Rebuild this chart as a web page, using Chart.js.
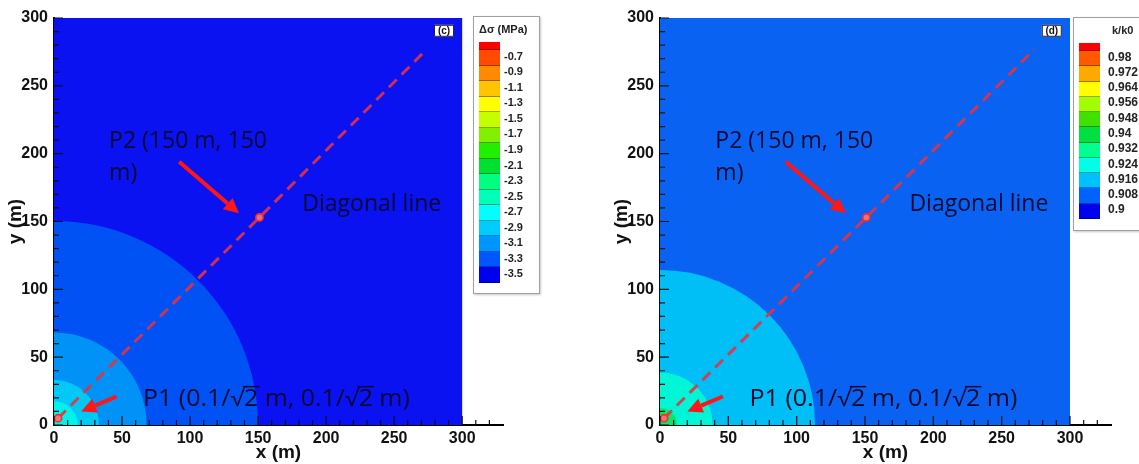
<!DOCTYPE html>
<html>
<head>
<meta charset="utf-8">
<script src="https://cdn.jsdelivr.net/npm/chart.js@4.4.1/dist/chart.umd.min.js"></script>
<style>
  body { margin: 0; background: #fff; width: 1139px; height: 464px; overflow: hidden; position: relative; font-family: "Liberation Sans", Arial, sans-serif; }
  .panel { position: absolute; top: 0; }
  .legend { position: absolute; background: #fff; border: 1px solid #a0a0a0; box-shadow: 1px 1px 2px #c8c8c8; overflow: hidden; }
  .legend .ttl { position: absolute; font-weight: bold; font-size: 11px; color: #222; white-space: nowrap; }
  .legend .bar { position: absolute; }
  .legend .sw { border-bottom: 1px solid rgba(0,0,0,0.35); box-sizing: border-box; }
  .legend .lbl { position: absolute; font-weight: bold; font-size: 11px; color: #222; line-height: 12px; white-space: nowrap; }
</style>
</head>
<body>
<canvas id="chartC" class="panel" width="570" height="464" style="left:0px"></canvas>
<canvas id="chartD" class="panel" width="533" height="464" style="left:606px"></canvas>
<div id="legendC" class="legend" style="left:473px; top:16px; width:65px; height:276px;"></div>
<div id="legendD" class="legend" style="left:1073px; top:17px; width:80px; height:212px;"></div>
<script>
// axis ticks
const xTicks = [0, 50, 100, 150, 200, 250, 300];
const yTicks = [0, 50, 100, 150, 200, 250, 300];

// panel (c): stress change contours (radius in m from origin)
const stressRadii = [150, 68, 33, 17.5];
const stressRingColors = ['#0052f4', '#0092f6', '#00c9f6', '#00f2ec'];
const stressOuter = '#0a12f2';
const stressLevels = ['-0.7', '-0.9', '-1.1', '-1.3', '-1.5', '-1.7', '-1.9', '-2.1', '-2.3', '-2.5', '-2.7', '-2.9', '-3.1', '-3.3', '-3.5'];
const stressColors = ['#ff0000', '#ff4a00', '#ff8a00', '#ffc400', '#ffff00', '#c4ff00', '#80f000', '#20f000', '#00e030', '#00ff80', '#00ffb8', '#00ffff', '#00ccff', '#0096ff', '#0056ff', '#0000f0'];

// panel (d): permeability ratio contours
const permRadii = [113.5, 38.5, 12.5];
const permRingColors = ['#00bef6', '#00f6d6', '#10e468'];
const permOuter = '#0a62f2';
const permLevels = ['0.98', '0.972', '0.964', '0.956', '0.948', '0.94', '0.932', '0.924', '0.916', '0.908', '0.9'];
const permColors = ['#ff0000', '#ff5a00', '#ffa800', '#ffff00', '#a0ff00', '#40e000', '#00e040', '#00ff90', '#00ffe6', '#00c0ff', '#0062ff', '#0000ee'];

// diagonal line and monitoring points
const diagX = [3, 151, 274];
const diagY = [5, 153, 277];
const pointX = [3, 151];
const pointY = [5, 153];

// annotations (data coordinates)
const arrowFrom = [[92, 194], [46, 21]];
const arrowTo = [[136, 156], [20, 10]];
const noteText = ['P2 (150 m, 150', 'm)', 'Diagonal line'];
const noteX = [40.5, 40.5, 182.5];
const noteY = [210, 187, 164];
const p1Pos = [65.5, 20.3];
const p1Width = 196; // label width in data units

const tickFont = { family: 'Liberation Sans', size: 16, weight: 'bold' };
const titleFont = { family: 'Liberation Sans', size: 19, weight: 'bold' };
const noteSize = 23;

const contourBase = {
  id: 'contourBase',
  beforeDatasetsDraw(chart, args, opts) {
    const { ctx, scales: { x, y } } = chart;
    const l = x.getPixelForValue(0), r = x.getPixelForValue(300);
    const t = y.getPixelForValue(300), b = y.getPixelForValue(0);
    ctx.save();
    ctx.fillStyle = opts.color;
    ctx.fillRect(l, t, r - l, b - t);
    ctx.restore();
  }
};

const annotations = {
  id: 'annotations',
  afterDatasetsDraw(chart, args, opts) {
    const { ctx, scales: { x, y } } = chart;
    ctx.save();
    // arrows
    ctx.strokeStyle = '#ff1616';
    ctx.fillStyle = '#ff1616';
    for (let i = 0; i < arrowFrom.length; i++) {
      const x0 = x.getPixelForValue(arrowFrom[i][0]), y0 = y.getPixelForValue(arrowFrom[i][1]);
      const x1 = x.getPixelForValue(arrowTo[i][0]), y1 = y.getPixelForValue(arrowTo[i][1]);
      const a = Math.atan2(y1 - y0, x1 - x0);
      const head = 15, half = 7.5;
      const bx = x1 - head * Math.cos(a), by = y1 - head * Math.sin(a);
      ctx.lineWidth = 4;
      ctx.beginPath();
      ctx.moveTo(x0, y0);
      ctx.lineTo(bx, by);
      ctx.stroke();
      ctx.beginPath();
      ctx.moveTo(x1, y1);
      ctx.lineTo(bx + half * Math.sin(a), by - half * Math.cos(a));
      ctx.lineTo(bx - half * Math.sin(a), by + half * Math.cos(a));
      ctx.closePath();
      ctx.fill();
    }
    // text labels
    ctx.fillStyle = '#0a0a30';
    ctx.strokeStyle = '#0a0a30';
    ctx.font = noteSize + 'px "Open Sans"';
    ctx.textBaseline = 'alphabetic';
    ctx.textAlign = 'left';
    const off = noteSize * 0.36;
    for (let i = 0; i < noteText.length; i++) {
      ctx.fillText(noteText[i], x.getPixelForValue(noteX[i]), y.getPixelForValue(noteY[i]) + off);
    }
    // P1 label with radical overline, stretched to the reference width
    const parts = ['P1 (0.1/\u221A', '2', ' m, 0.1/\u221A', '2', ' m)'];
    const x0 = x.getPixelForValue(p1Pos[0]);
    const total = parts.reduce((s, p) => s + ctx.measureText(p).width, 0);
    const target = x.getPixelForValue(p1Pos[0] + p1Width) - x0;
    const base = y.getPixelForValue(p1Pos[1]) + off;
    ctx.save();
    ctx.translate(x0, base);
    ctx.scale(target / total, 1);
    let px = 0;
    ctx.lineWidth = 1.5;
    parts.forEach(p => {
      const w = ctx.measureText(p).width;
      ctx.fillText(p, px, 0);
      if (p === '2') {
        ctx.beginPath();
        ctx.moveTo(px - 1, -noteSize * 0.83);
        ctx.lineTo(px + w + 1, -noteSize * 0.83);
        ctx.stroke();
      }
      px += w;
    });
    ctx.restore();
    // panel tag
    ctx.font = 'bold 10px "Liberation Sans"';
    const tr = x.getPixelForValue(294), tt = y.getPixelForValue(295);
    const tw = 20, th = 12;
    ctx.fillStyle = '#fff';
    ctx.fillRect(tr - tw, tt, tw, th);
    ctx.strokeStyle = '#222';
    ctx.lineWidth = 1;
    ctx.strokeRect(tr - tw + 0.5, tt + 0.5, tw - 1, th - 1);
    ctx.fillStyle = '#111';
    ctx.textAlign = 'center';
    ctx.textBaseline = 'middle';
    ctx.fillText(opts.tag, tr - tw / 2, tt + th / 2 + 0.5);
    ctx.restore();
  }
};

const tickMarks = {
  id: 'tickMarks',
  afterDraw(chart) {
    const { ctx, scales: { x, y } } = chart;
    ctx.save();
    ctx.strokeStyle = '#111';
    ctx.lineWidth = 1.2;
    ctx.beginPath();
    for (let v = 0; v <= 320; v += 10) {
      const len = (v % 50 === 0 && v <= 300) ? 9 : 5;
      const px = x.getPixelForValue(v);
      ctx.moveTo(px, y.bottom);
      ctx.lineTo(px, y.bottom - len);
    }
    for (let v = 0; v <= 300; v += 10) {
      const len = v % 50 === 0 ? 9 : 5;
      const py = y.getPixelForValue(v);
      ctx.moveTo(x.left, py);
      ctx.lineTo(x.left + len, py);
    }
    ctx.stroke();
    ctx.restore();
  }
};

function buildPanel(id, radii, ringColors, outer, tag, rightPad) {
  const datasets = [
    {
      data: pointX.map((v, i) => ({ x: v, y: pointY[i] })),
      pointRadius: 3.6,
      borderColor: '#ff2a2a',
      backgroundColor: 'rgba(235,120,120,0.95)',
      borderWidth: 1.6,
      order: 1,
      clip: 0
    },
    {
      type: 'line',
      data: diagX.map((v, i) => ({ x: v, y: diagY[i] })),
      borderColor: 'rgba(230,50,65,0.9)',
      borderDash: [11, 7],
      borderWidth: 3,
      pointRadius: 0,
      fill: false,
      order: 2,
      clip: 0
    }
  ];
  // contour bands: one circle per level, centred on the origin, radius in data units
  radii.forEach((r, i) => {
    datasets.push({
      data: [{ x: 0, y: 0 }],
      backgroundColor: ringColors[i],
      borderWidth: 0,
      pointRadius: ctx => ctx.chart.scales.x.getPixelForValue(r) - ctx.chart.scales.x.getPixelForValue(0),
      pointHoverRadius: 0,
      order: 10 + radii.length - i,
      clip: 0
    });
  });

  return new Chart(document.getElementById(id), {
    type: 'scatter',
    data: { datasets: datasets },
    options: {
      responsive: false,
      animation: false,
      events: [],
      layout: { padding: { top: 18, right: rightPad, left: 0, bottom: 0 } },
      plugins: {
        legend: { display: false },
        tooltip: { enabled: false },
        contourBase: { color: outer },
        annotations: { tag: tag }
      },
      scales: {
        x: {
          type: 'linear', min: 0, max: 330,
          afterBuildTicks: s => { s.ticks = xTicks.map(v => ({ value: v })); },
          afterFit: s => { s.height = 39; },
          grid: { display: false, drawTicks: false },
          border: { display: true, color: '#000', width: 2 },
          ticks: { padding: 4, color: '#111', font: tickFont, maxRotation: 0, autoSkip: false },
          title: { display: true, text: 'x (m)', color: '#111', font: titleFont, padding: { top: 0, bottom: 0 } }
        },
        y: {
          type: 'linear', min: 0, max: 300,
          afterBuildTicks: s => { s.ticks = yTicks.map(v => ({ value: v })); },
          afterFit: s => { s.width = 54; },
          grid: { display: false, drawTicks: false },
          border: { display: true, color: '#000', width: 2 },
          ticks: { padding: 6, color: '#111', font: tickFont, autoSkip: false },
          title: { display: true, text: 'y (m)', color: '#111', font: titleFont, padding: { top: 4, bottom: 0 } }
        }
      }
    },
    plugins: [contourBase, annotations, tickMarks]
  });
}

function buildLegend(id, title, titleLeft, levels, colors, barTop, barHeight, labelLeft, labelSize) {
  const box = document.getElementById(id);
  const ttl = document.createElement('div');
  ttl.className = 'ttl';
  ttl.textContent = title;
  ttl.style.left = titleLeft + 'px';
  ttl.style.top = '6px';
  box.appendChild(ttl);
  const bar = document.createElement('div');
  bar.className = 'bar';
  bar.style.left = '5px';
  bar.style.top = barTop + 'px';
  bar.style.width = '21px';
  box.appendChild(bar);
  const halfH = 8;
  const step = (barHeight - halfH) / levels.length;
  colors.forEach((c, i) => {
    const sw = document.createElement('div');
    sw.className = 'sw';
    sw.style.background = c;
    sw.style.height = (i === 0 ? halfH : step) + 'px';
    bar.appendChild(sw);
  });
  levels.forEach((t, i) => {
    const l = document.createElement('div');
    l.className = 'lbl';
    l.textContent = t;
    l.style.fontSize = labelSize + 'px';
    l.style.left = labelLeft + 'px';
    l.style.top = (barTop + halfH + step * i + step / 2 - 8) + 'px';
    box.appendChild(l);
  });
}

buildPanel('chartC', stressRadii, stressRingColors, stressOuter, '(c)', 67);
buildPanel('chartD', permRadii, permRingColors, permOuter, '(d)', 28);
buildLegend('legendC', '\u0394\u03C3 (MPa)', 5, stressLevels, stressColors, 25, 241, 30, 11);
buildLegend('legendD', 'k/k0', 38, permLevels, permColors, 25, 176, 34, 12);
</script>
</body>
</html>
